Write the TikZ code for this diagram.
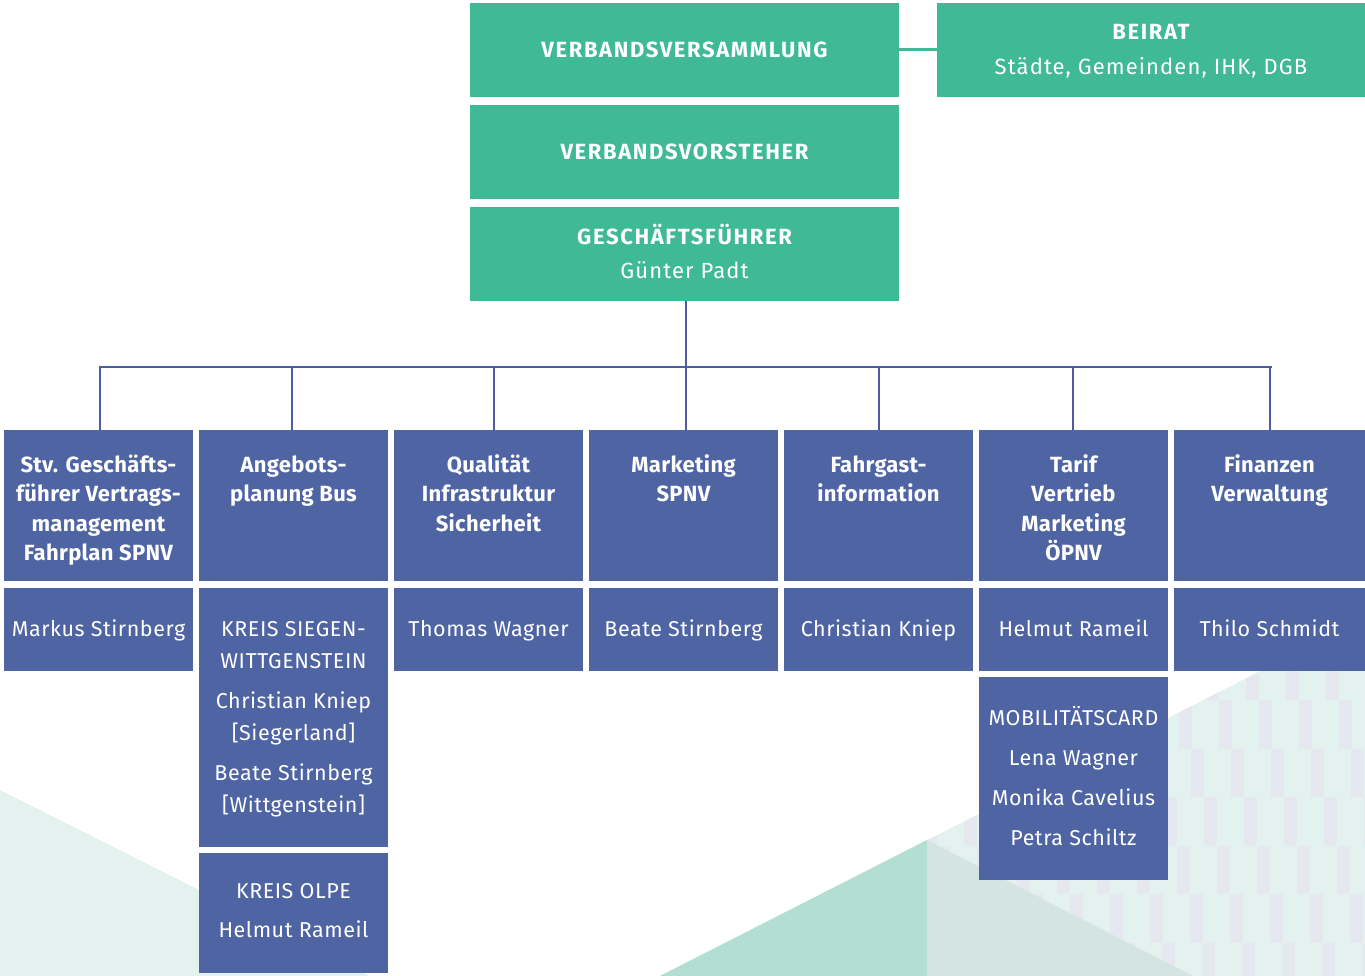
\documentclass[tikz,border=0pt]{standalone}
\usepackage{fontspec}
\setmainfont[LetterSpace=2.5]{Fira Sans}
\newfontfamily\hfont[LetterSpace=7.5]{Fira Sans}
\newfontfamily\sfont[LetterSpace=5]{Fira Sans}
\newfontfamily\bfont[LetterSpace=1.5]{Fira Sans}
\definecolor{vgreen}{HTML}{3FB996}
\definecolor{vblue}{HTML}{4F64A3}
\definecolor{vline}{HTML}{4A5DA0}
\definecolor{bglight}{HTML}{E3F2EE}
\definecolor{bgdark}{HTML}{B3DFD2}
\definecolor{bggrey}{HTML}{D3E4E3}
\definecolor{bgstripe}{HTML}{E6E8F0}
\newcommand\tstrut{\rule{0pt}{20pt}}
\begin{document}
\begin{tikzpicture}[x=1pt,y=-1pt,
  gbox/.style={fill=vgreen,draw=none,inner sep=0pt},
  bbox/.style={fill=vblue,draw=none,inner sep=0pt},
  txt/.style={anchor=north,inner sep=0pt,text=white,align=center},
  htxt/.style={txt,font=\hfont\bfseries\fontsize{22}{26}\selectfont},
  htxtr/.style={txt,font=\sfont\fontsize{22}{26}\selectfont},
  ctxt/.style={txt,font=\bfont\bfseries\fontsize{22}{29.5}\selectfont},
  ntxt/.style={txt,font=\fontsize{21.5}{32}\selectfont},
  conn/.style={draw=vline,line width=2.5pt},
  gconn/.style={draw=vgreen,line width=3pt}]
\useasboundingbox (0,0) rectangle (1365,976);
% background
\fill[bglight] (0,790) -- (0,976) -- (370,976) -- cycle;
\fill[bglight] (660,976) -- (1365,618) -- (1365,976) -- cycle;
\begin{scope}
  \clip (660,976) -- (1365,618) -- (1365,976) -- cycle;
  \foreach \j in {-1,...,7} {
    \foreach \k in {15,...,34} {
      \pgfmathsetmacro{\xx}{6+12.7*\j+40*\k}
      \pgfmathsetmacro{\yy}{651.5+48.5*\j}
      \fill[bgstripe] (\xx,\yy) rectangle ++(13,48.5);
    }
  }
\end{scope}
\fill[bgdark] (660,976) -- (927,840) -- (927,976) -- cycle;
\fill[bggrey] (927,840) -- (927,976) -- (1193,976) -- cycle;

% top boxes
\node[gbox,minimum width=429pt,minimum height=94pt] (vv) at (684.5,50) {};
\node[gbox,minimum width=428pt,minimum height=94pt] (br) at (1151,50) {};
\node[gbox,minimum width=429pt,minimum height=94pt] (vs) at (684.5,152) {};
\node[gbox,minimum width=429pt,minimum height=94pt] (gf) at (684.5,254) {};
\node[htxt] (vvt) at (684.5,37) {\tstrut VERBANDSVERSAMMLUNG};
\node[htxt] (brt) at (1151,19) {\tstrut BEIRAT};
\node[htxtr] (brs) at (1151,54) {\tstrut Städte, Gemeinden, IHK, DGB};
\node[htxt] (vst) at (684.5,139) {\tstrut VERBANDSVORSTEHER};
\node[htxt] (gft) at (684.5,224) {\tstrut GESCHÄFTSFÜHRER};
\node[htxtr] (gfs) at (684.5,258) {\tstrut Günter Padt};
\draw[gconn] (vv.east) -- (br.west);

% department boxes row 1
\node[bbox,minimum width=189pt,minimum height=151pt] (d1) at (98.5,505.5) {};
\node[bbox,minimum width=189pt,minimum height=151pt] (d2) at (293.5,505.5) {};
\node[bbox,minimum width=189pt,minimum height=151pt] (d3) at (488.5,505.5) {};
\node[bbox,minimum width=189pt,minimum height=151pt] (d4) at (683.5,505.5) {};
\node[bbox,minimum width=189pt,minimum height=151pt] (d5) at (878.5,505.5) {};
\node[bbox,minimum width=189pt,minimum height=151pt] (d6) at (1073.5,505.5) {};
\node[bbox,minimum width=191pt,minimum height=151pt] (d7) at (1269.5,505.5) {};
% row 2
\node[bbox,minimum width=189pt,minimum height=83pt] (p1) at (98.5,629.5) {};
\node[bbox,minimum width=189pt,minimum height=259pt] (p2) at (293.5,717.5) {};
\node[bbox,minimum width=189pt,minimum height=83pt] (p3) at (488.5,629.5) {};
\node[bbox,minimum width=189pt,minimum height=83pt] (p4) at (683.5,629.5) {};
\node[bbox,minimum width=189pt,minimum height=83pt] (p5) at (878.5,629.5) {};
\node[bbox,minimum width=189pt,minimum height=83pt] (p6) at (1073.5,629.5) {};
\node[bbox,minimum width=191pt,minimum height=83pt] (p7) at (1269.5,629.5) {};
\node[bbox,minimum width=189pt,minimum height=120pt] (ol) at (293.5,913) {};
\node[bbox,minimum width=189pt,minimum height=203pt] (mc) at (1073.5,778.5) {};

% texts row 1
\node[ctxt] (d1t) at (98.5,452) {\tstrut Stv. Geschäfts-\\führer Vertrags-\\management\\Fahrplan SPNV};
\node[ctxt] (d2t) at (293.5,452) {\tstrut Angebots-\\planung Bus};
\node[ctxt] (d3t) at (488.5,452) {\tstrut Qualität\\Infrastruktur\\Sicherheit};
\node[ctxt] (d4t) at (683.5,452) {\tstrut Marketing\\SPNV};
\node[ctxt] (d5t) at (878.5,452) {\tstrut Fahrgast-\\information};
\node[ctxt] (d6t) at (1073.5,452) {\tstrut Tarif\\Vertrieb\\Marketing\\ÖPNV};
\node[ctxt] (d7t) at (1269.5,452) {\tstrut Finanzen\\Verwaltung};
% texts row 2
\node[ntxt] (p1t) at (98.5,616) {\tstrut Markus Stirnberg};
\node[ntxt] (p2t) at (293.5,616) {\tstrut KREIS SIEGEN-\\WITTGENSTEIN\\[8pt]Christian Kniep\\{}[Siegerland]\\[8pt]Beate Stirnberg\\{}[Wittgenstein]};
\node[ntxt] (p3t) at (488.5,616) {\tstrut Thomas Wagner};
\node[ntxt] (p4t) at (683.5,616) {\tstrut Beate Stirnberg};
\node[ntxt] (p5t) at (878.5,616) {\tstrut Christian Kniep};
\node[ntxt] (p6t) at (1073.5,616) {\tstrut Helmut Rameil};
\node[ntxt] (p7t) at (1269.5,616) {\tstrut Thilo Schmidt};
\node[ntxt,font=\fontsize{21.5}{39}\selectfont] (olt) at (293.5,878) {\tstrut KREIS OLPE\\Helmut Rameil};
\node[ntxt,font=\fontsize{21.5}{40}\selectfont] (mct) at (1073.5,705) {\tstrut MOBILITÄTSCARD\\Lena Wagner\\Monika Cavelius\\Petra Schiltz};

% connectors
\coordinate (bus) at (686,367);
\draw[conn] (686,0 |- gf.south) -- (bus);
\draw[conn,line cap=rect] (100,367) -- (1271,367);
\foreach \n/\x in {d1/100,d2/292,d3/494,d4/686,d5/879,d6/1073,d7/1270} {
  \draw[conn] (\x,367) -- (\x,0 |- \n.north);
}
\end{tikzpicture}
\end{document}
